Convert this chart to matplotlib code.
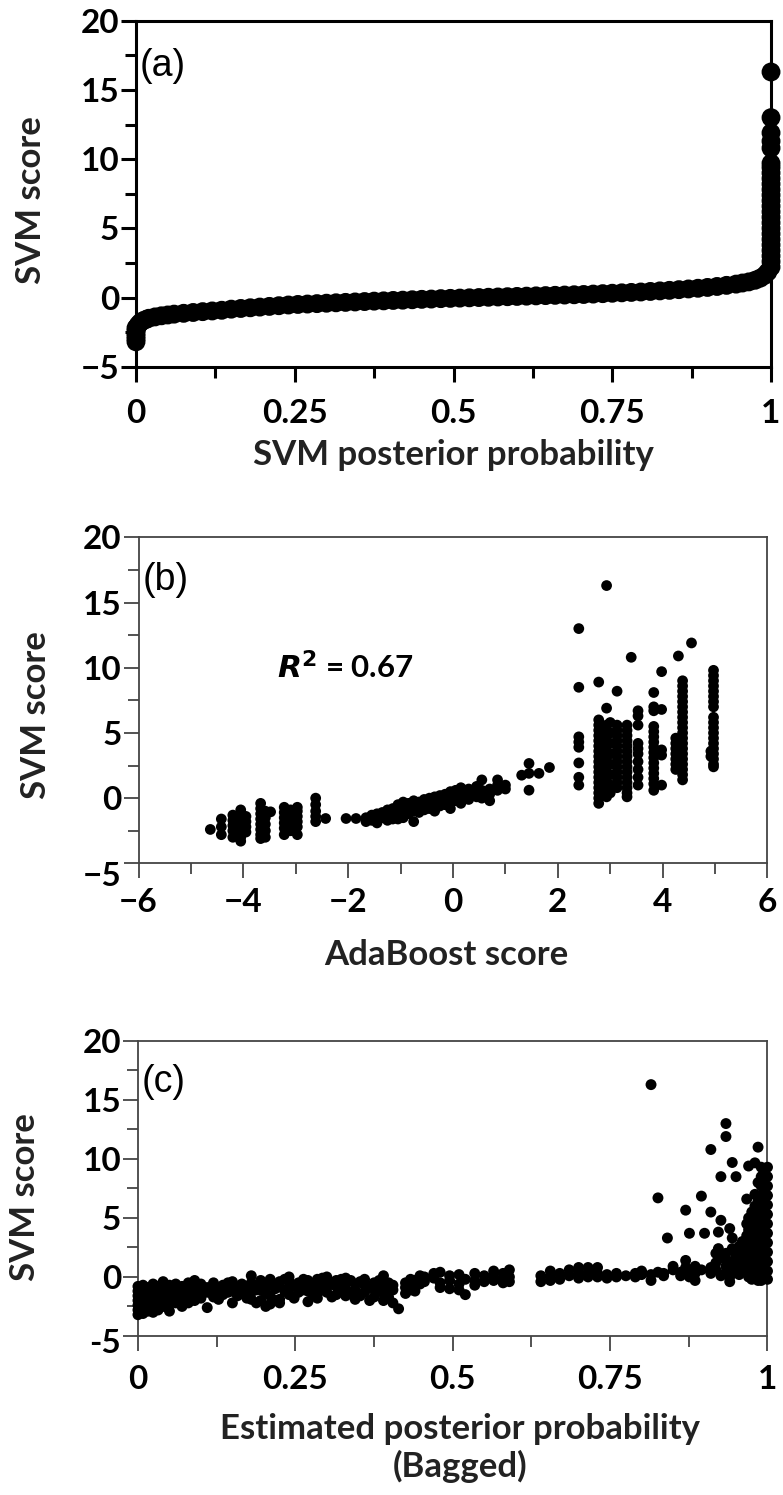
import numpy as np
import matplotlib
matplotlib.use('Agg')
import matplotlib.pyplot as plt
import matplotlib.transforms as mtransforms
from matplotlib.ticker import MultipleLocator

# ---- dados ----
# (a) SVM score x probabilidade a posteriori do SVM
a_prob = [0, 0, 0, 0, 0, 0, 0.002, 0.004, 0.007, 0.010, 0.015, 0.02, 0.03, 0.04, 0.05, 0.06,
          0.075, 0.09, 0.105, 0.12, 0.135, 0.15, 0.165, 0.18, 0.195, 0.21, 0.225, 0.24, 0.255,
          0.27, 0.285, 0.30, 0.315, 0.33, 0.345, 0.36, 0.375, 0.39, 0.405, 0.42, 0.435, 0.45,
          0.465, 0.48, 0.495, 0.51, 0.525, 0.54, 0.555, 0.57, 0.585, 0.60, 0.615, 0.63, 0.645,
          0.66, 0.675, 0.69, 0.705, 0.72, 0.735, 0.75, 0.765, 0.78, 0.795, 0.81, 0.825, 0.84,
          0.855, 0.87, 0.885, 0.90, 0.915, 0.93, 0.945, 0.955, 0.965, 0.975, 0.983, 0.99, 0.995,
          1, 1, 1, 1, 1, 1, 1, 1, 1, 1, 1, 1, 1, 1, 1, 1, 1, 1, 1, 1, 1, 1, 1, 1, 1]
a_score = [-3.2, -3.0, -2.8, -2.6, -2.4, -2.2, -2.1, -1.95, -1.8, -1.7, -1.6, -1.5, -1.4, -1.32,
           -1.26, -1.2, -1.14, -1.08, -1.02, -0.97, -0.92, -0.84, -0.79, -0.74, -0.69, -0.64,
           -0.59, -0.54, -0.50, -0.47, -0.44, -0.41, -0.38, -0.35, -0.32, -0.29, -0.26, -0.24,
           -0.21, -0.19, -0.16, -0.13, -0.11, -0.08, -0.06, -0.04, -0.02, 0.0, 0.02, 0.04, 0.06,
           0.08, 0.10, 0.12, 0.14, 0.16, 0.18, 0.20, 0.22, 0.25, 0.28, 0.31, 0.34, 0.37, 0.40,
           0.44, 0.48, 0.52, 0.57, 0.62, 0.67, 0.73, 0.80, 0.88, 0.97, 1.05, 1.13, 1.25, 1.4,
           1.6, 1.85,
           2.2, 2.6, 3.0, 3.4, 3.8, 4.2, 4.6, 5.0, 5.4, 5.8, 6.2, 6.6, 7.0, 7.4, 7.8, 8.2, 8.6,
           9.0, 9.4, 9.7, 10.8, 11.3, 11.9, 13.0, 16.3]

# (b) SVM score x AdaBoost score (colunas: valor de x, valores de y)
b_cols = [
    (-4.63, [-2.4]),
    (-4.42, [-1.6, -2.2, -2.8]),
    (-4.20, [-1.3, -1.7, -2.1, -2.5, -3.0]),
    (-4.05, [-0.9, -1.2, -1.5, -1.8, -2.1, -2.4, -2.7, -3.0, -3.3]),
    (-3.95, [-1.4, -1.8, -2.2, -2.6]),
    (-3.67, [-0.4, -0.8, -1.2, -1.6, -2.0, -2.4, -2.8, -3.1]),
    (-3.58, [-1.0, -1.5, -2.0, -2.5, -3.0]),
    (-3.48, [-1.05]),
    (-3.22, [-0.7, -1.1, -1.5, -1.9, -2.3, -2.8]),
    (-3.10, [-0.9, -1.3, -1.7, -2.1, -2.5]),
    (-2.97, [-0.7, -1.0, -1.4, -1.8, -2.2, -2.8]),
    (-2.62, [0.0, -0.5, -1.0, -1.4, -1.8]),
    (-2.43, [-1.56]),
    (-2.04, [-1.56]),
    (-1.85, [-1.56]),
    (-1.66, [-1.5, -1.8]),
    (-1.55, [-1.3, -1.7]),
    (-1.45, [-1.2, -1.6, -1.9]),
    (-1.35, [-1.1, -1.5]),
    (-1.25, [-0.9, -1.3, -1.7]),
    (-1.15, [-0.8, -1.2, -1.6]),
    (-1.05, [-0.5, -0.9, -1.3, -1.6]),
    (-0.95, [-0.3, -0.7, -1.1, -1.5]),
    (-0.85, [-0.4, -0.8, -1.2]),
    (-0.75, [-0.2, -0.6, -1.0, -1.8]),
    (-0.65, [-0.3, -0.7, -1.1]),
    (-0.55, [-0.1, -0.5, -0.9]),
    (-0.45, [0.0, -0.4, -0.8]),
    (-0.35, [0.1, -0.3, -0.7, -1.0]),
    (-0.25, [0.2, -0.2, -0.6]),
    (-0.15, [0.3, -0.1, -0.5]),
    (-0.05, [0.5, 0.1, -0.3, -0.8]),
    (0.05, [0.6, 0.2, -0.2]),
    (0.15, [0.8, 0.4, 0.0, -0.4]),
    (0.30, [0.7, 0.3, -0.1]),
    (0.45, [0.9, 0.5, 0.1]),
    (0.55, [1.4, 0.6, 0.0]),
    (0.70, [0.7, 0.3, -0.2]),
    (0.85, [1.4, 1.0, 0.6]),
    (1.00, [1.0, 0.7]),
    (1.31, [1.76]),
    (1.45, [2.66, 1.9, 0.61]),
    (1.64, [1.9]),
    (1.84, [2.35]),
    (2.40, [13.0, 8.5, 4.7, 4.3, 3.9, 2.7, 1.6, 1.0]),
    (2.78, [8.9, 6.0, 5.6, 5.2, 4.8, 4.4, 4.0, 3.6, 3.2, 2.8, 2.4, 2.0, 1.6, 1.2, 0.8, 0.4, 0.0, -0.4]),
    (2.86, [5.0, 4.4, 3.8, 3.2, 2.6, 2.0, 1.4, 0.8, 0.3]),
    (2.93, [16.3, 6.9, 5.6, 5.2, 4.8, 4.4, 4.0, 3.6, 3.2, 2.8, 2.4, 2.0, 1.6, 1.2, 0.8, 0.4, 0.1]),
    (3.00, [5.8, 5.0, 4.2, 3.4, 2.6, 1.8, 1.0, 0.4]),
    (3.13, [8.2, 5.6, 5.2, 4.8, 4.4, 4.0, 3.6, 3.2, 2.8, 2.4, 2.0, 1.6, 1.2, 0.8]),
    (3.32, [5.6, 5.2, 4.8, 4.4, 4.0, 3.6, 3.2, 2.8, 2.4, 2.0, 1.6, 1.2, 0.8, 0.4, 0.1]),
    (3.40, [10.8]),
    (3.53, [6.7, 6.3, 5.6, 4.2, 3.8, 3.4, 2.8, 2.2, 1.6, 1.0]),
    (3.83, [8.1, 7.0, 6.7, 5.5, 5.1, 4.7, 4.3, 3.9, 3.5, 3.1, 2.7, 2.3, 1.9, 1.5, 1.1, 0.6]),
    (3.98, [9.7, 6.8, 3.7, 3.3, 1.0]),
    (4.25, [4.6, 4.2, 3.8, 3.4, 3.0, 2.6, 2.2]),
    (4.30, [10.9]),
    (4.38, [9.0, 8.6, 8.2, 7.8, 7.4, 7.0, 6.6, 6.2, 5.8, 5.4, 5.0, 4.6, 4.2, 3.8, 3.4, 3.0,
            2.6, 2.2, 1.8, 1.4]),
    (4.55, [11.9]),
    (4.92, [3.6, 3.2]),
    (4.97, [9.8, 9.4, 9.0, 8.6, 8.2, 7.8, 7.4, 7.0, 6.2, 5.8, 5.4, 5.0, 4.6, 4.2, 3.8, 3.4,
            3.0, 2.6, 2.4]),
]

# (c) SVM score x probabilidade estimada (bagged)
c_cols = [
    (0.000, [-0.8, -1.2, -1.6, -2.0, -2.4, -2.8, -3.2]),
    (0.008, [-0.7, -1.1, -1.5, -1.9, -2.3, -2.7, -3.1]),
    (0.016, [-0.9, -1.3, -1.7, -2.1, -2.5, -2.9]),
    (0.024, [-0.6, -1.0, -1.4, -1.8, -2.2, -2.6, -3.0]),
    (0.032, [-0.8, -1.2, -1.6, -2.0, -2.4, -2.8]),
    (0.040, [-0.4, -0.9, -1.3, -1.7, -2.1, -2.5]),
    (0.050, [-0.7, -1.1, -1.5, -1.9, -2.3, -2.9]),
    (0.060, [-0.6, -1.0, -1.4, -1.8, -2.2]),
    (0.070, [-0.8, -1.2, -1.7, -2.1, -2.5]),
    (0.080, [-0.5, -0.9, -1.3, -1.8, -2.2]),
    (0.090, [-0.3, -0.8, -1.2, -1.6, -2.0]),
    (0.100, [-0.6, -1.0, -1.4, -1.8]),
    (0.110, [-0.9, -1.3, -2.6]),
    (0.120, [-0.5, -0.9, -1.3, -1.7]),
    (0.128, [-1.1, -1.9]),
    (0.135, [-0.7, -1.1, -1.5]),
    (0.143, [-0.5, -1.3]),
    (0.150, [-0.4, -0.8, -1.2, -2.2]),
    (0.158, [-1.0, -1.6]),
    (0.165, [-0.6, -1.0, -1.4]),
    (0.173, [-0.8, -1.8]),
    (0.180, [0.1, -0.5, -0.9, -1.3, -1.9]),
    (0.188, [-1.1, -2.2]),
    (0.195, [-0.3, -0.7, -1.1, -2.0]),
    (0.203, [-0.9, -1.4, -2.5]),
    (0.210, [-0.2, -0.6, -1.6, -2.3]),
    (0.218, [-1.0, -2.0]),
    (0.225, [-0.4, -0.8, -1.9, -2.2]),
    (0.233, [-0.2, -1.2]),
    (0.240, [0.0, -0.4, -1.0, -1.5]),
    (0.248, [-0.7, -1.8]),
    (0.255, [-0.5, -0.9, -1.3]),
    (0.263, [-0.2, -1.1]),
    (0.270, [-0.3, -0.7, -1.2, -2.1]),
    (0.278, [-0.9, -1.6]),
    (0.285, [-0.2, -0.6, -1.4, -1.8]),
    (0.293, [-0.1, -1.1]),
    (0.300, [0.0, -0.4, -0.9, -1.3]),
    (0.308, [-0.6, -1.7]),
    (0.315, [-0.3, -0.8, -1.5]),
    (0.323, [-1.2, -0.2]),
    (0.330, [-0.1, -0.5, -1.0, -1.6]),
    (0.338, [-0.3, -1.4]),
    (0.345, [-0.6, -1.1, -1.9]),
    (0.353, [-0.4, -1.6]),
    (0.360, [-0.2, -0.7, -1.3]),
    (0.368, [-0.9, -2.0]),
    (0.375, [-0.5, -1.0, -1.7]),
    (0.383, [-0.3, -1.2]),
    (0.390, [0.1, -0.9, -1.4, -2.0]),
    (0.398, [-0.5, -1.7]),
    (0.405, [-0.7, -1.1, -2.2]),
    (0.414, [-2.7]),
    (0.425, [-0.5, -0.9, -1.4]),
    (0.433, [-0.2, -1.1]),
    (0.440, [-0.3, -0.8, -1.2]),
    (0.448, [0.1, -0.6]),
    (0.455, [0.0, -0.4]),
    (0.470, [0.3, -0.1]),
    (0.480, [0.4, -0.5, -0.9]),
    (0.495, [0.1, -0.3, -1.0]),
    (0.510, [0.2, -0.6, -1.1]),
    (0.520, [-0.2, -1.5]),
    (0.535, [0.3, -0.3, -0.7]),
    (0.550, [0.1, -0.4]),
    (0.565, [0.5, 0.0, -0.3]),
    (0.580, [0.3, -0.2, -0.5]),
    (0.590, [0.6, 0.0, -0.4]),
    (0.640, [0.1, -0.4]),
    (0.655, [0.5, 0.0, -0.3]),
    (0.670, [0.3, -0.2]),
    (0.685, [0.6, 0.1]),
    (0.700, [0.8, 0.3, -0.1]),
    (0.715, [0.8, 0.4, 0.0]),
    (0.730, [0.8, 0.3, 0.0]),
    (0.745, [0.2, -0.1]),
    (0.760, [0.3, 0.0]),
    (0.775, [0.1]),
    (0.790, [0.3, 0.0]),
    (0.800, [0.5, 0.2]),
    (0.815, [16.3, 0.2, -0.3]),
    (0.826, [6.7, 0.4]),
    (0.835, [0.3, 0.1]),
    (0.841, [3.3]),
    (0.850, [0.9, 0.6]),
    (0.862, [0.4, 0.1]),
    (0.870, [5.66, 1.4, 0.8]),
    (0.876, [3.7, 0.5, 0.0]),
    (0.885, [0.9, 0.3, -0.3]),
    (0.895, [6.85, 0.6]),
    (0.900, [3.7]),
    (0.910, [10.8, 5.5, 0.8, 0.3]),
    (0.918, [2.0, 1.2, 0.6]),
    (0.922, [3.8, 2.4]),
    (0.926, [8.5, 4.8, 1.6, 0.1]),
    (0.934, [13.0, 11.9, 2.0, 0.9, 0.4]),
    (0.940, [4.1, 1.3, 0.0, -0.4]),
    (0.944, [9.7, 3.3, 2.4, 1.0]),
    (0.950, [8.5, 1.8, 0.6]),
    (0.955, [2.6, 1.2, 0.2]),
    (0.960, [3.0, 2.0, 0.8]),
    (0.967, [6.6, 4.5, 3.5, 2.5, 1.5, 0.5]),
    (0.970, [9.4, 5.0, 4.0, 3.0, 2.0, 1.0, 0.0]),
    (0.975, [5.5, 4.6, 3.6, 2.6, 1.6, 0.6, -0.2]),
    (0.980, [9.67, 7.0, 6.0, 5.0, 4.2, 3.2, 2.2, 1.2, 0.3]),
    (0.985, [11.0, 8.0, 6.5, 5.6, 4.8, 3.8, 2.8, 1.8, 0.8, -0.3]),
    (0.990, [9.3, 8.5, 7.7, 6.9, 6.1, 5.3, 4.5, 3.7, 2.9, 2.1, 1.3, 0.5, -0.3]),
    (0.995, [9.0, 8.2, 7.4, 6.6, 5.8, 5.0, 4.2, 3.4, 2.6, 1.8, 1.0, 0.2]),
    (1.000, [9.3, 8.5, 7.7, 6.9, 6.1, 5.3, 4.5, 3.7, 2.9, 2.1, 1.3, 0.5, -0.2]),
]

prob_ticks = [0, 0.25, 0.5, 0.75, 1]
prob_labels = ['0', '0.25', '0.5', '0.75', '1']
ada_ticks = [-6, -4, -2, 0, 2, 4, 6]
ada_labels = ['\u22126', '\u22124', '\u22122', '0', '2', '4', '6']
score_ticks = [-5, 0, 5, 10, 15, 20]
score_labels = ['\u22125', '0', '5', '10', '15', '20']
score_labels_c = ['-5', '0', '5', '10', '15', '20']


def flatten(cols):
    xs, ys = [], []
    for x, lst in cols:
        for y in lst:
            xs.append(x)
            ys.append(y)
    return xs, ys


b_x, b_y = flatten(b_cols)
c_x, c_y = flatten(c_cols)

FONT = 'Lato'
LAB = dict(fontfamily=FONT, fontweight='bold', fontsize=25, color='#222222')
fig = plt.figure(figsize=(7.83, 14.95), dpi=100)

ax_a = fig.add_axes([0.1737, 0.7547, 0.811, 0.2314])
ax_b = fig.add_axes([0.1769, 0.4225, 0.8033, 0.2181])
ax_c = fig.add_axes([0.1762, 0.1064, 0.8040, 0.1973])


def estilo(ax, cor, lw, xt, xl, yl, xminor, xpad):
    ax.set_ylim(-5, 20)
    ax.set_yticks(score_ticks)
    ax.set_yticklabels(yl)
    ax.yaxis.set_minor_locator(MultipleLocator(2.5))
    ax.xaxis.set_minor_locator(MultipleLocator(xminor))
    ax.set_xticks(xt)
    ax.set_xticklabels(xl)
    for s in ax.spines.values():
        s.set_color(cor)
        s.set_linewidth(lw)
    ax.tick_params(which='major', direction='out', length=11, width=lw, color=cor)
    ax.tick_params(which='minor', direction='out', length=8, width=lw, color=cor)
    ax.tick_params(axis='x', which='major', pad=xpad)
    ax.tick_params(axis='y', which='major', pad=1)
    for t in ax.get_xticklabels() + ax.get_yticklabels():
        t.set_fontfamily(FONT)
        t.set_fontweight('bold')
        t.set_fontsize(24)


def desce_rotulo(ax, idx, pts):
    # desloca um rótulo do eixo y para baixo (como no original)
    lab = ax.yaxis.get_major_ticks()[idx].label1
    off = mtransforms.ScaledTranslation(0, -pts / 72, fig.dpi_scale_trans)
    lab.set_transform(lab.get_transform() + off)


# painel (a)
ax_a.scatter(a_prob, a_score, s=185, color='black', edgecolors='none', clip_on=False, zorder=3)
ax_a.set_xlim(0, 1)
estilo(ax_a, 'black', 2.2, prob_ticks, prob_labels, score_labels, 0.125, 12)
ax_a.set_xlabel('SVM posterior probability', **LAB)
ax_a.xaxis.set_label_coords(0.5, -0.255)
ax_a.xaxis.label.set_va('center')
ax_a.set_ylabel('SVM score', **LAB)
ax_a.yaxis.set_label_coords(-0.165, 0.482)
ax_a.yaxis.label.set_va('center')
ax_a.text(0.006, 0.869, '(a)', transform=ax_a.transAxes, fontfamily='Liberation Sans',
          fontsize=27, ha='left', va='center')

# painel (b)
ax_b.scatter(b_x, b_y, s=60, color='black', edgecolors='none', zorder=3)
ax_b.set_xlim(-6, 6)
estilo(ax_b, '#444444', 1.3, ada_ticks, ada_labels, score_labels, 1, 7)
desce_rotulo(ax_b, 0, 8)
ax_b.set_xlabel('AdaBoost score', **LAB)
ax_b.xaxis.set_label_coords(0.49, -0.281)
ax_b.xaxis.label.set_va('center')
ax_b.set_ylabel('SVM score', **LAB)
ax_b.yaxis.set_label_coords(-0.163, 0.455)
ax_b.yaxis.label.set_va('center')
ax_b.text(0.006, 0.869, '(b)', transform=ax_b.transAxes, fontfamily='Liberation Sans',
          fontsize=27, ha='left', va='center')
ax_b.text(-3.36, 10.05, r'$\mathbfit{R}^{\mathbf{2}}$ = 0.67', fontfamily=FONT, fontweight='bold',
          fontsize=22.5, ha='left', va='center')

# painel (c)
ax_c.scatter(c_x, c_y, s=62, color='black', edgecolors='none', clip_on=False, zorder=3)
ax_c.set_xlim(0, 1)
estilo(ax_c, '#444444', 1.3, prob_ticks, prob_labels, score_labels_c, 0.125, 10)
desce_rotulo(ax_c, 0, 3.5)
ax_c.set_xlabel('Estimated posterior probability\n(Bagged)', linespacing=1.2, **LAB)
ax_c.xaxis.set_label_coords(0.511, -0.38)
ax_c.xaxis.label.set_va('center')
ax_c.set_ylabel('SVM score', **LAB)
ax_c.yaxis.set_label_coords(-0.18, 0.471)
ax_c.yaxis.label.set_va('center')
ax_c.text(0.006, 0.861, '(c)', transform=ax_c.transAxes, fontfamily='Liberation Sans',
          fontsize=27, ha='left', va='center')

fig.savefig('out.png', dpi=100, facecolor='white')
